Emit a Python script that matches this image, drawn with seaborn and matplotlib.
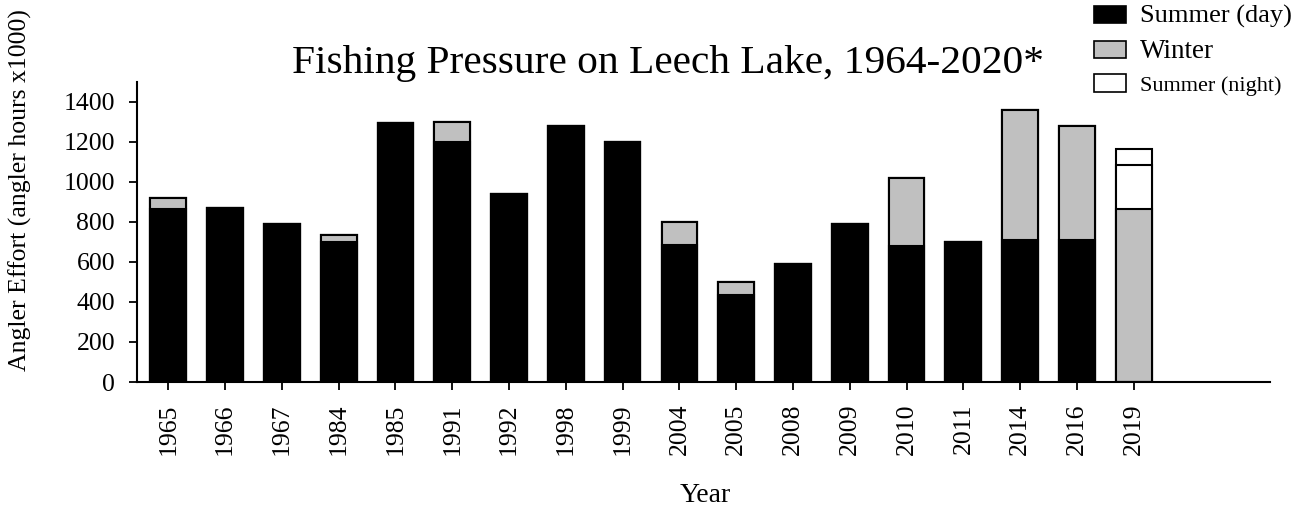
import numpy as np
import matplotlib
matplotlib.use("Agg")
import matplotlib.pyplot as plt
import seaborn as sns
import pandas as pd
from matplotlib.patches import Patch

years = ['1965', '1966', '1967', '1984', '1985', '1991', '1992', '1998', '1999',
         '2004', '2005', '2008', '2009', '2010', '2011', '2014', '2016', '2019']
summer_day = [863, 867, 790, 700, 1293, 1199, 940, 1279, 1197,
              684, 433, 588, 788, 678, 700, 712, 711, 0]
winter = [57, 0, 0, 35, 0, 98, 0, 0, 0,
          114, 67, 0, 0, 343, 0, 645, 566, 862]
summer_night = [0, 0, 0, 0, 0, 0, 0, 0, 0,
                0, 0, 0, 0, 0, 0, 0, 0, 222]
summer_night_extra = [0, 0, 0, 0, 0, 0, 0, 0, 0,
                      0, 0, 0, 0, 0, 0, 0, 0, 78]

sns.set_style("ticks")
plt.rcParams['font.family'] = ['Liberation Serif', 'DejaVu Serif']
plt.rcParams['text.color'] = 'black'
plt.rcParams['xtick.color'] = 'black'
plt.rcParams['ytick.color'] = 'black'

df = pd.DataFrame({'year': years, 'day': summer_day, 'winter': winter,
                   'night': summer_night, 'extra': summer_night_extra})
df['c1'] = df['day']
df['c2'] = df['c1'] + df['winter']
df['c3'] = df['c2'] + df['night']
df['c4'] = df['c3'] + df['extra']

fig = plt.figure(figsize=(12.96, 5.08), dpi=100)
ax = fig.add_axes([0.1057, 0.248, 0.8743, 0.591])

layers = [('c4', 'white'), ('c3', 'white'), ('c2', '#c0c0c0'), ('c1', 'black')]
for col, colr in layers:
    sns.barplot(data=df, x='year', y=col, order=years, color=colr, saturation=1,
                edgecolor='black', linewidth=1.5, width=0.63, ax=ax, errorbar=None)

ax.set_xlim(-0.55, 19.4)
ax.set_ylim(0, 1500)
ax.set_yticks(np.arange(0, 1401, 200))
sns.despine(ax=ax)
for s in ['left', 'bottom']:
    ax.spines[s].set_linewidth(1.5)
    ax.spines[s].set_color('black')
ax.tick_params(axis='both', width=1.3, length=5.8, color='black', labelsize=18.5,
               labelcolor='black', pad=10)
ax.tick_params(axis='x', labelrotation=90)
ax.set_xlabel('')
ax.set_ylabel('')

fig.text(20 / 1296, 1 - 190 / 508, 'Angler Effort (angler hours x1000)', rotation=90,
         ha='center', va='center', fontsize=18.5)
fig.text(705 / 1296, 1 - 496 / 508, 'Year', ha='center', va='center', fontsize=20)
fig.text(668 / 1296, 1 - 64 / 508, 'Fishing Pressure on Leech Lake, 1964-2020*',
         ha='center', va='center', fontsize=29.8)

handles = [Patch(facecolor='black', edgecolor='black', linewidth=1.2),
           Patch(facecolor='#c0c0c0', edgecolor='black', linewidth=1.2),
           Patch(facecolor='white', edgecolor='black', linewidth=1.2)]
leg = fig.legend(handles, ['Summer (day)', 'Winter', 'Summer (night)'],
                 loc='upper left', bbox_to_anchor=(1094 / 1296, 1 - 5 / 508),
                 frameon=False, fontsize=17, handlelength=1.36, handleheight=0.75,
                 handletextpad=0.6, labelspacing=0.45, borderaxespad=0, borderpad=0)
leg.get_texts()[0].set_fontsize(19)
leg.get_texts()[1].set_fontsize(19.5)
leg.get_texts()[2].set_fontsize(16)

fig.savefig('out.png', dpi=100)
